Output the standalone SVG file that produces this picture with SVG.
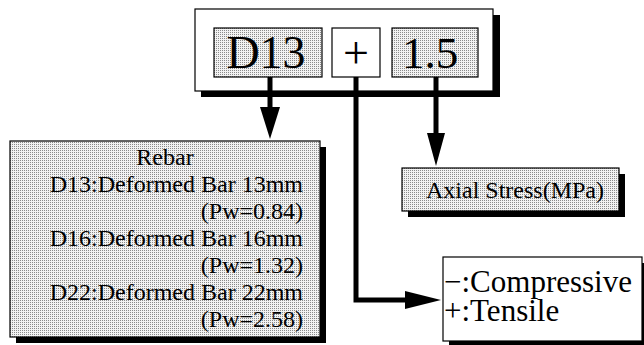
<svg xmlns="http://www.w3.org/2000/svg" width="644" height="345" viewBox="0 0 644 345">
<defs>
<pattern id="dots" width="2" height="2" patternUnits="userSpaceOnUse">
<rect width="2" height="2" fill="#f2f2f2"/>
<rect width="1" height="1" fill="#8a8a8a"/>
</pattern>
</defs>
<style>
text{font-family:'Liberation Serif','Times New Roman',Times,serif;fill:#000}
.box{stroke:#000;stroke-width:1.2}
.sh{fill:#000}
.ln{fill:none;stroke:#000;stroke-width:5}
</style>
<rect width="644" height="345" fill="#fff"/>
<g id="code">
<rect class="sh" x="201" y="15" width="299" height="82"/>
<rect class="box" x="195" y="9" width="298" height="82" fill="#fff"/>
</g>
<g id="d13">
<rect class="box" x="214" y="28" width="108" height="49" fill="url(#dots)"/>
<text x="266" y="68" font-size="46" text-anchor="middle">D13</text>
</g>
<g id="sign">
<rect class="box" x="332" y="28" width="48" height="49" fill="#fff"/>
<text x="356" y="68" font-size="46" text-anchor="middle">+</text>
</g>
<g id="value">
<rect class="box" x="392" y="28" width="86" height="49" fill="url(#dots)"/>
<text x="430" y="68" font-size="45" text-anchor="middle">1.5</text>
</g>
<g id="connectors">
<path class="ln" d="M270,77 V110"/>
<polygon points="260,107 280,107 270,139" fill="#000"/>
<path class="ln" d="M436,77 V136"/>
<polygon points="427,133 445,133 436,166" fill="#000"/>
<path class="ln" d="M356,77 V300 H408"/>
<polygon points="405,291 405,309 441,300" fill="#000"/>
</g>
<g id="rebar">
<rect class="sh" x="16" y="147" width="310" height="196"/>
<rect class="box" x="10" y="141" width="310" height="196" fill="url(#dots)"/>
<text x="165" y="165" font-size="24" text-anchor="middle">Rebar</text>
<text x="303" y="192" font-size="24" text-anchor="end">D13:Deformed Bar 13mm</text>
<text x="303" y="219" font-size="24" text-anchor="end">(Pw=0.84)</text>
<text x="303" y="246" font-size="24" text-anchor="end">D16:Deformed Bar 16mm</text>
<text x="303" y="273" font-size="24" text-anchor="end">(Pw=1.32)</text>
<text x="303" y="300" font-size="24" text-anchor="end">D22:Deformed Bar 22mm</text>
<text x="303" y="327" font-size="24" text-anchor="end">(Pw=2.58)</text>
</g>
<g id="axial">
<rect class="sh" x="408" y="174" width="217" height="43"/>
<rect class="box" x="402" y="168" width="217" height="43" fill="url(#dots)"/>
<text x="426" y="198" font-size="24">Axial Stress(MPa)</text>
</g>
<g id="signlegend">
<rect class="sh" x="449" y="263" width="199" height="84"/>
<rect class="box" x="443" y="257" width="199" height="84" fill="#fff"/>
<text x="444" y="292" font-size="31">−:Compressive</text>
<text x="444" y="321" font-size="31">+:Tensile</text>
</g>
</svg>
